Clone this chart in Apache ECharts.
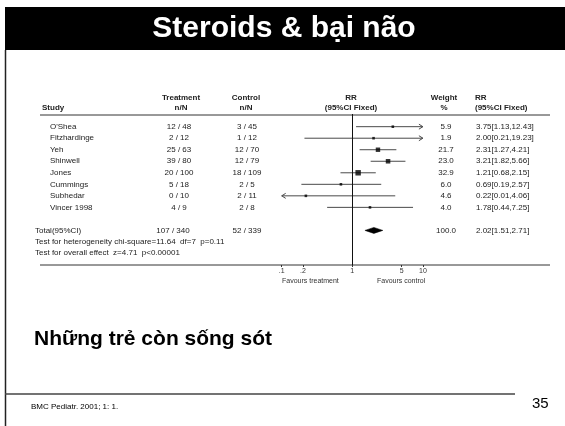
<!DOCTYPE html>
<html>
<head>
<meta charset="utf-8">
<script src="https://cdn.jsdelivr.net/npm/echarts@6/dist/echarts.min.js"></script>
<style>
html,body{margin:0;padding:0;background:#fff}
#c{width:565px;height:426px}
</style>
</head>
<body>
<div id="c"></div>
<script>
// Trials in the meta-analysis (risk ratio, fixed effect)
const studies   = ["O'Shea", "Fitzhardinge", "Yeh", "Shinwell", "Jones", "Cummings", "Subhedar", "Vincer 1998"];
const treatment = ["12 / 48", "2 / 12", "25 / 63", "39 / 80", "20 / 100", "5 / 18", "0 / 10", "4 / 9"];
const control   = ["3 / 45", "1 / 12", "12 / 70", "12 / 79", "18 / 109", "2 / 5", "2 / 11", "2 / 8"];
const weight    = [5.9, 1.9, 21.7, 23.0, 32.9, 6.0, 4.6, 4.0];
const rr        = [3.75, 2.00, 2.31, 3.21, 1.21, 0.69, 0.22, 1.78];
const lower     = [1.13, 0.21, 1.27, 1.82, 0.68, 0.19, 0.01, 0.44];
const upper     = [12.43, 19.23, 4.21, 5.66, 2.15, 2.57, 4.06, 7.25];

// Pooled estimate
const totalLabel     = "Total(95%CI)";
const totalTreatment = "107 / 340";
const totalControl   = "52 / 339";
const totalWeight    = 100.0;
const totalRR        = [2.02, 1.51, 2.71]; // estimate, lower, upper

const heterogeneityText = "Test for heterogeneity chi-square=11.64  df=7  p=0.11";
const overallText       = "Test for overall effect  z=4.71  p<0.00001";

// Axis ticks
const tickValues = [0.1, 0.2, 1, 5, 10];
const tickLabels = [".1", ".2", "1", "5", "10"];
const X_MIN = 0.1, X_MAX = 10;
const TOTAL_ROW = 9;

const FONT = "'Liberation Sans', Arial, sans-serif";
const TXT = '#222';
const LINE = '#4a4a4a';

function fmtRR(a, b, c) {
  return a.toFixed(2) + '[' + b.toFixed(2) + ',' + c.toFixed(2) + ']';
}

// Text columns of the table, placed on the rows of the y scale
const tableRows = studies.map((s, i) => ({
  row: i, name: s, tr: treatment[i], co: control[i],
  w: weight[i].toFixed(1), rrText: fmtRR(rr[i], lower[i], upper[i]), isTotal: false
}));
tableRows.push({
  row: TOTAL_ROW, name: totalLabel, tr: totalTreatment, co: totalControl,
  w: totalWeight.toFixed(1), rrText: fmtRR(totalRR[0], totalRR[1], totalRR[2]), isTotal: true
});

function txt(text, x, y, align, opts) {
  return {
    type: 'text',
    style: Object.assign({
      text: text, x: x, y: y, align: align, verticalAlign: 'middle',
      font: '8px ' + FONT, fill: TXT
    }, opts || {})
  };
}

const chart = echarts.init(document.getElementById('c'), null, {renderer: 'canvas'});

const option = {
  animation: false,
  backgroundColor: '#fff',
  grid: {left: 281.7, right: 142.1, top: 114, height: 151, containLabel: false},
  xAxis: {
    type: 'log', logBase: 10, min: X_MIN, max: X_MAX,
    position: 'bottom',
    axisLine: {show: false, onZero: false},
    axisTick: {show: true, length: 2, lineStyle: {color: '#333'}, customValues: tickValues},
    axisLabel: {
      fontSize: 7, color: '#333', margin: 3, fontFamily: FONT,
      customValues: tickValues,
      formatter: function (v) {
        let best = 0;
        tickValues.forEach((t, k) => { if (Math.abs(Math.log10(t) - Math.log10(v)) < Math.abs(Math.log10(tickValues[best]) - Math.log10(v))) best = k; });
        return tickLabels[best];
      }
    },
    splitLine: {show: false}
  },
  yAxis: {type: 'value', inverse: true, min: -1.1, max: 12, show: false},
  series: [
    // confidence interval lines, with arrows where they run off the axis
    {
      type: 'custom',
      clip: false,
      data: studies.map((s, i) => [rr[i], i, lower[i], upper[i]]),
      renderItem: function (params, api) {
        const row = api.value(1);
        const lo = api.value(2), hi = api.value(3);
        const y = api.coord([1, row])[1];
        const x0 = api.coord([Math.max(lo, X_MIN), row])[0];
        const x1 = api.coord([Math.min(hi, X_MAX), row])[0];
        const st = {stroke: LINE, lineWidth: 1, fill: null};
        const children = [{type: 'line', shape: {x1: x0, y1: y, x2: x1, y2: y}, style: st}];
        if (hi > X_MAX) {
          children.push({type: 'polyline', shape: {points: [[x1 - 4, y - 2.5], [x1, y], [x1 - 4, y + 2.5]]}, style: st});
        }
        if (lo < X_MIN) {
          children.push({type: 'polyline', shape: {points: [[x0 + 4, y - 2.5], [x0, y], [x0 + 4, y + 2.5]]}, style: st});
        }
        return {type: 'group', children: children};
      },
      z: 2
    },
    // point estimates, sized by weight
    {
      type: 'scatter',
      symbol: 'rect',
      data: studies.map((s, i) => [rr[i], i, weight[i]]),
      symbolSize: function (d) { return Math.max(2.6, Math.sqrt(d[2]) * 0.95); },
      itemStyle: {color: '#000'},
      silent: true,
      z: 3,
      markLine: {
        silent: true,
        symbol: ['none', 'none'],
        label: {show: false},
        lineStyle: {color: '#111', width: 1, type: 'solid'},
        data: [{xAxis: 1}]
      }
    },
    // pooled diamond
    {
      type: 'custom',
      clip: false,
      data: [[totalRR[0], TOTAL_ROW, totalRR[1], totalRR[2]]],
      renderItem: function (params, api) {
        const row = api.value(1);
        const c = api.coord([api.value(0), row]);
        const l = api.coord([api.value(2), row]);
        const r = api.coord([api.value(3), row]);
        return {
          type: 'polygon',
          shape: {points: [[l[0], c[1]], [c[0], c[1] - 3], [r[0], c[1]], [c[0], c[1] + 3]]},
          style: {fill: '#000', stroke: '#000', lineWidth: 0.5}
        };
      },
      z: 3
    },
    // table text
    {
      type: 'custom',
      clip: false,
      silent: true,
      data: tableRows.map(r => [1, r.row]),
      renderItem: function (params, api) {
        const r = tableRows[params.dataIndex];
        const y = api.coord([1, api.value(1)])[1];
        return {
          type: 'group',
          children: [
            txt(r.name, r.isTotal ? 35 : 50, y, 'left'),
            txt(r.tr, r.isTotal ? 173 : 179, y, 'center'),
            txt(r.co, 247, y, 'center'),
            txt(r.w, 446, y, 'center'),
            txt(r.rrText, 476, y, 'left')
          ]
        };
      },
      z: 4
    },
    // test statistics lines under the total
    {
      type: 'custom',
      clip: false,
      silent: true,
      data: [[1, TOTAL_ROW + 0.95, 0], [1, TOTAL_ROW + 1.9, 1]],
      renderItem: function (params, api) {
        const y = api.coord([1, api.value(1)])[1];
        return txt(params.dataIndex === 0 ? heterogeneityText : overallText, 35, y, 'left');
      }
    }
  ],
  graphic: [
    // slide frame
    {type: 'rect', shape: {x: 5, y: 7, width: 560, height: 43}, style: {fill: '#000'}},
    {type: 'line', shape: {x1: 5.5, y1: 50, x2: 5.5, y2: 426}, style: {stroke: '#222', lineWidth: 1.5}},
    {type: 'text', style: {text: 'Steroids & bại não', x: 284, y: 29, align: 'center', verticalAlign: 'middle',
      font: 'bold 30px ' + FONT, fill: '#fff'}},
    // table header
    txt('Study', 42, 108, 'left', {font: 'bold 8px ' + FONT}),
    txt('Treatment', 181, 98, 'center', {font: 'bold 8px ' + FONT}),
    txt('n/N', 181, 108, 'center', {font: 'bold 8px ' + FONT}),
    txt('Control', 246, 98, 'center', {font: 'bold 8px ' + FONT}),
    txt('n/N', 246, 108, 'center', {font: 'bold 8px ' + FONT}),
    txt('RR', 351, 98, 'center', {font: 'bold 8px ' + FONT}),
    txt('(95%CI Fixed)', 351, 108, 'center', {font: 'bold 8px ' + FONT}),
    txt('Weight', 444, 98, 'center', {font: 'bold 8px ' + FONT}),
    txt('%', 444, 108, 'center', {font: 'bold 8px ' + FONT}),
    txt('RR', 475, 98, 'left', {font: 'bold 8px ' + FONT}),
    txt('(95%CI Fixed)', 475, 108, 'left', {font: 'bold 8px ' + FONT}),
    {type: 'line', shape: {x1: 40, y1: 115, x2: 550, y2: 115}, style: {stroke: '#333', lineWidth: 1}},
    // axis rule and favours captions
    {type: 'line', shape: {x1: 40, y1: 265, x2: 550, y2: 265}, style: {stroke: '#333', lineWidth: 1}},
    txt('Favours treatment', 282, 281, 'left', {font: '7px ' + FONT, fill: '#333'}),
    txt('Favours control', 377, 281, 'left', {font: '7px ' + FONT, fill: '#333'}),
    // slide body text and footer
    {type: 'text', style: {text: 'Những trẻ còn sống sót', x: 34, y: 339, align: 'left', verticalAlign: 'middle',
      font: 'bold 21px ' + FONT, fill: '#000'}},
    {type: 'line', shape: {x1: 5, y1: 394, x2: 515, y2: 394}, style: {stroke: '#444', lineWidth: 1.5}},
    {type: 'text', style: {text: 'BMC Pediatr. 2001; 1: 1.', x: 31, y: 407, align: 'left', verticalAlign: 'middle',
      font: '8px ' + FONT, fill: '#000'}},
    {type: 'text', style: {text: '35', x: 532, y: 404, align: 'left', verticalAlign: 'middle',
      font: '15px ' + FONT, fill: '#000'}}
  ]
};

chart.setOption(option);
</script>
</body>
</html>
